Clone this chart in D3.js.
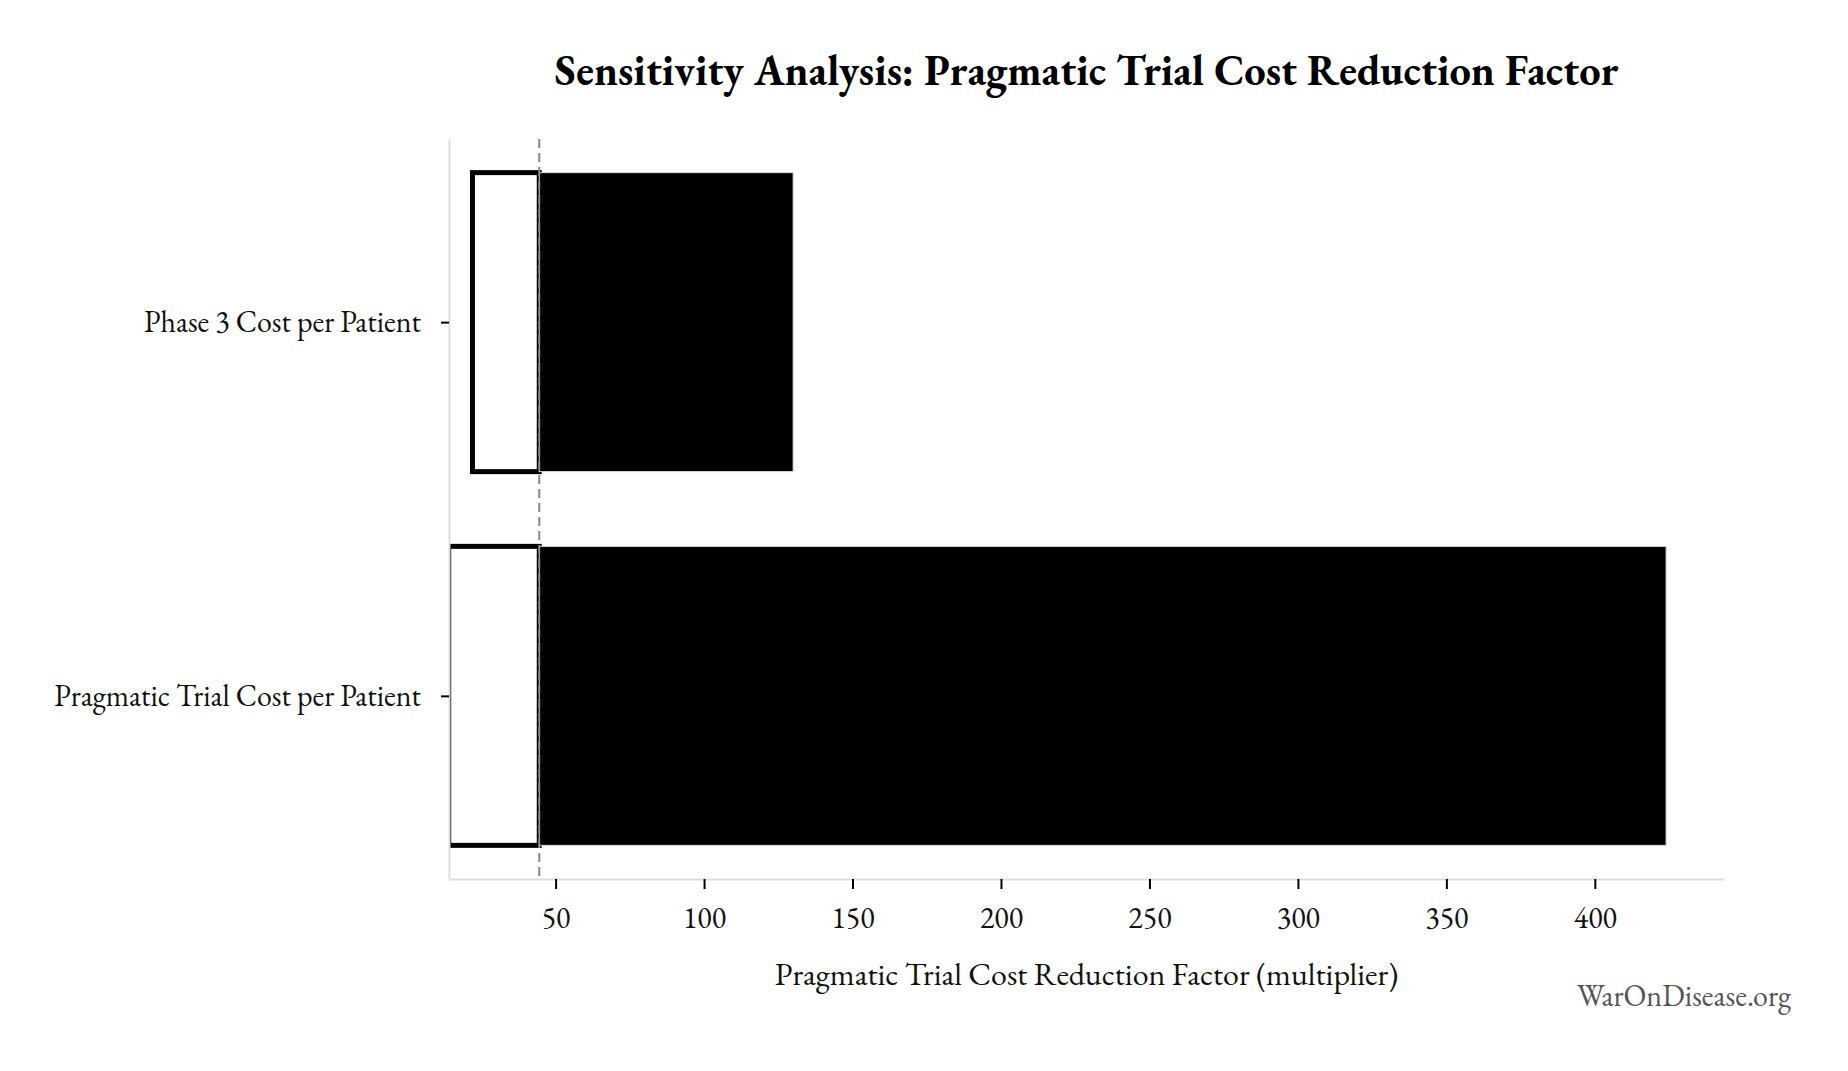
<!DOCTYPE html>
<html>
<head>
<meta charset="utf-8">
<script src="https://cdn.jsdelivr.net/npm/d3@7"></script>
<style>
  html, body { margin: 0; padding: 0; background: #ffffff; }
  svg { display: block; }
  text { font-family: "EB Garamond", Garamond, "Liberation Serif", "DejaVu Serif", serif; }
</style>
</head>
<body>
<svg id="chart" width="1848" height="1071"></svg>
<script>
// ---- Data ----
const categories = ["Pragmatic Trial Cost per Patient", "Phase 3 Cost per Patient"];
const lowValues = [14, 22];
const highValues = [424, 130];
const baselineValue = 44.5;
const xTickValues = [50, 100, 150, 200, 250, 300, 350, 400];
const xDomain = [14.1, 443.5];
const titleText = "Sensitivity Analysis: Pragmatic Trial Cost Reduction Factor";
const xLabelText = "Pragmatic Trial Cost Reduction Factor (multiplier)";
const watermarkText = "WarOnDisease.org";

// ---- Layout ----
const W = 1848, H = 1071;
const plot = { left: 449, right: 1724, top: 139, bottom: 879 };
const barHalf = 0.4;
const fontStack = "'EB Garamond', Garamond, 'Liberation Serif', serif";

const svg = d3.select("#chart");
svg.append("rect").attr("width", W).attr("height", H).attr("fill", "#fff");

const x = d3.scaleLinear().domain(xDomain).range([plot.left, plot.right]);
const y = d3.scaleLinear().domain([-0.49, 1.49]).range([plot.bottom, plot.top]);

svg.append("defs").append("clipPath").attr("id", "plotclip")
  .append("rect")
  .attr("x", plot.left).attr("y", plot.top)
  .attr("width", plot.right - plot.left).attr("height", plot.bottom - plot.top);

const rows = categories.map((c, i) => ({ cat: c, idx: i, low: lowValues[i], high: highValues[i] }));

const bars = svg.append("g").attr("clip-path", "url(#plotclip)");

// low side (white box with black edge)
bars.selectAll("rect.low").data(rows).join("rect")
  .attr("class", "low")
  .attr("x", d => x(Math.min(d.low, baselineValue)))
  .attr("width", d => Math.abs(x(baselineValue) - x(d.low)))
  .attr("y", d => y(d.idx + barHalf))
  .attr("height", d => y(d.idx - barHalf) - y(d.idx + barHalf))
  .attr("fill", "#ffffff")
  .attr("stroke", "#000000")
  .attr("stroke-width", 5);

// high side (solid black)
bars.selectAll("rect.high").data(rows).join("rect")
  .attr("class", "high")
  .attr("x", d => x(Math.min(d.high, baselineValue)))
  .attr("width", d => Math.abs(x(d.high) - x(baselineValue)))
  .attr("y", d => y(d.idx + barHalf))
  .attr("height", d => y(d.idx - barHalf) - y(d.idx + barHalf))
  .attr("fill", "#000000")
  .attr("stroke", "#dddddd")
  .attr("stroke-width", 1);

// baseline dashed line
svg.append("line")
  .attr("x1", x(baselineValue)).attr("x2", x(baselineValue))
  .attr("y1", plot.top).attr("y2", plot.bottom)
  .attr("stroke", "#888888")
  .attr("stroke-width", 2)
  .attr("stroke-dasharray", "9,5");

// x axis
const xAxis = d3.axisBottom(x)
  .tickValues(xTickValues)
  .tickFormat(d3.format("d"))
  .tickSize(10)
  .tickSizeOuter(0)
  .tickPadding(18);
const gx = svg.append("g")
  .attr("transform", `translate(0,${plot.bottom})`)
  .call(xAxis);
gx.select(".domain").attr("stroke", "#dddddd").attr("stroke-width", 2);
gx.selectAll(".tick line").attr("stroke", "#000").attr("stroke-width", 2);
gx.selectAll(".tick text")
  .attr("fill", "#111")
  .style("font-size", "30px")
  .style("font-family", fontStack);

// y axis
const yAxis = d3.axisLeft(y)
  .tickValues(rows.map(r => r.idx))
  .tickFormat(i => categories[i])
  .tickSize(8)
  .tickSizeOuter(0)
  .tickPadding(20);
const gy = svg.append("g")
  .attr("transform", `translate(${plot.left},0)`)
  .call(yAxis);
gy.select(".domain").attr("stroke", "#dddddd").attr("stroke-width", 2);
gy.selectAll(".tick line").attr("stroke", "#000").attr("stroke-width", 2);
gy.selectAll(".tick text")
  .attr("fill", "#111")
  .style("font-size", "30px")
  .style("font-family", fontStack);

// title
const cx = (plot.left + plot.right) / 2;
svg.append("text")
  .attr("x", cx).attr("y", 85)
  .attr("text-anchor", "middle")
  .attr("font-weight", "bold")
  .attr("font-size", 42.5)
  .attr("fill", "#000")
  .text(titleText);

// x label
svg.append("text")
  .attr("x", cx).attr("y", 985)
  .attr("text-anchor", "middle")
  .attr("font-size", 32)
  .attr("fill", "#111")
  .text(xLabelText);

// watermark
svg.append("text")
  .attr("x", 1791).attr("y", 1006)
  .attr("text-anchor", "end")
  .attr("font-size", 30)
  .attr("fill", "#555")
  .text(watermarkText);
</script>
</body>
</html>
